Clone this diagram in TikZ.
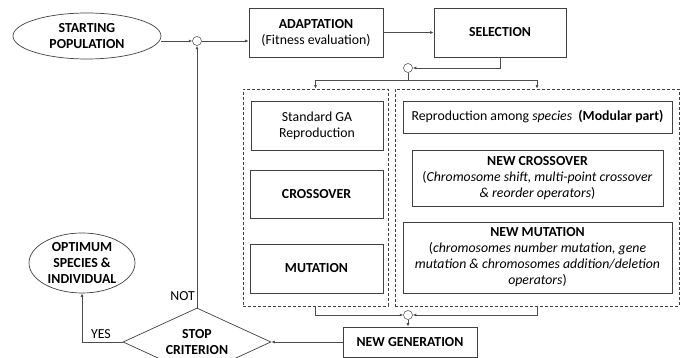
\documentclass[tikz,border=0pt]{standalone}
\usepackage{fontspec}
\setmainfont{Carlito}
\usepackage{tikz}
\usetikzlibrary{shapes.geometric,arrows.meta}

\begin{document}
\begin{tikzpicture}[x=1pt, y=-1pt,
    every node/.style={font=\fontsize{13.8}{16}\selectfont, align=center, inner sep=0pt},
    box/.style={draw=black!75, line width=0.7pt, rectangle},
    groupbox/.style={draw=black!75, line width=0.7pt, dash pattern=on 3pt off 2pt, rectangle},
    term/.style={draw=black!75, line width=0.7pt, ellipse},
    junction/.style={draw=black!75, line width=0.5pt, circle, fill=white, minimum size=9pt},
    link/.style={draw=black!70, line width=0.7pt, -{Latex[length=3.5pt,width=3pt]}},
    plain/.style={draw=black!70, line width=0.7pt}]
    \useasboundingbox (0,0) rectangle (686,358);
    \clip (0,0) rectangle (686,358);

    % top row
    \node[term, minimum width=148pt, minimum height=46pt] (start) at (87,36) {\bfseries STARTING\\\bfseries POPULATION};
    \node[junction] (c1) at (197,41) {};
    \node[box, minimum width=134pt, minimum height=49pt] (adapt) at (316,32.5) {\bfseries ADAPTATION\\(Fitness evaluation)};
    \node[box, minimum width=132pt, minimum height=49pt] (select) at (500,32.5) {\bfseries SELECTION};
    \node[junction] (c2) at (408,68) {};
    \coordinate (split) at (408,80);

    % reproduction groups
    \node[groupbox, minimum width=145pt, minimum height=217pt] (gstd) at (315.5,197.5) {};
    \node[groupbox, minimum width=284pt, minimum height=217pt] (gmod) at (537,197.5) {};
    \node[box, minimum width=132pt, minimum height=49pt] (stdga) at (317,125.5) {Standard GA\\Reproduction};
    \node[box, minimum width=133pt, minimum height=48pt] (cross) at (316.5,194) {\bfseries CROSSOVER};
    \node[box, minimum width=133pt, minimum height=49pt] (mut) at (316.5,268.5) {\bfseries MUTATION};
    \node[box, minimum width=269pt, minimum height=32pt] (repro) at (537.5,117) {Reproduction among \textit{species}\ \ \textbf{(Modular part)}};
    \node[box, minimum width=251pt, minimum height=56pt] (newcross) at (537.5,178) {\textbf{NEW CROSSOVER}\\(\textit{Chromosome shift, multi-point crossover}\\\textit{\& reorder operators})};
    \node[box, minimum width=269pt, minimum height=71pt] (newmut) at (537.5,257.5) {\textbf{NEW MUTATION}\\(\textit{chromosomes number mutation, gene}\\\textit{mutation \& chromosomes addition/deletion}\\\textit{operators})};

    % bottom row
    \node[junction] (c3) at (408,315) {};
    \node[box, minimum width=134pt, minimum height=30pt] (newgen) at (410,342) {\bfseries NEW GENERATION};
    \node[draw=black!75, line width=0.7pt, diamond, aspect=2.18, minimum width=148pt, minimum height=68pt] (stop) at (197,342) {\bfseries STOP\\\bfseries CRITERION};
    \node[term, minimum width=106pt, minimum height=60pt] (opt) at (82,263) {\bfseries OPTIMUM\\\bfseries SPECIES \&\\\bfseries INDIVIDUAL};
    \node[anchor=south] (yes) at (101,339) {YES};
    \node[anchor=east] (no) at (195,296) {NOT};

    \draw[link] (start.east |- c1) -- (c1.west);
    \draw[link] (c1.east) -- (adapt.west |- c1);
    \draw[link] (adapt.east) -- (select.west);
    \draw[link] (select.south) |- (c2.east);
    \draw[plain] (c2.south) -- (split);
    \draw[link] (split) -| (gstd.north);
    \draw[link] (split) -| (gmod.north);
    \draw[link] (gstd.south) |- (c3.west);
    \draw[link] (gmod.south) |- (c3.east);
    \draw[link] (c3.south) -- (c3.south |- newgen.north);
    \draw[link] (newgen.west) -- (stop.east);
    \draw[link] (stop.west) -| (opt.south);
    \draw[link] (stop.north) -- (c1.south);
\end{tikzpicture}
\end{document}
